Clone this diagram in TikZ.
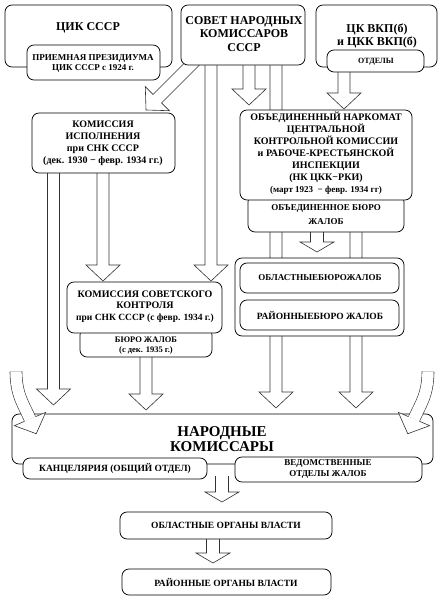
\documentclass[tikz,border=0pt]{standalone}
\usepackage{fontspec}
\setmainfont{Liberation Serif}
\usetikzlibrary{fit}
\newcommand\fsz[2]{\fontsize{#1}{#2}\selectfont\bfseries}
\tikzset{
  box/.style={draw=black, line width=0.75pt, rounded corners=7pt, fill=white, inner sep=0pt},
  arr/.style={draw=black!80, line width=0.6pt, fill=white, line join=miter},
  dbl/.style={draw=black!80, line width=0.6pt, double=white, double distance=11.4pt},
  lab/.style={align=center, inner sep=0pt},
}
\newcommand\blockdown[3]{\path[arr] (#1-6,#2) -- (#1-6,#3-16) -- (#1-17,#3-16) -- (#1,#3) -- (#1+17,#3-16) -- (#1+6,#3-16) -- (#1+6,#2);}
\newcommand\smalldown[3]{\path[arr] (#1-6.5,#2) -- (#1-6.5,#3-10) -- (#1-17,#3-10) -- (#1,#3) -- (#1+17,#3-10) -- (#1+6.5,#3-10) -- (#1+6.5,#2);}
\newcommand\headat[3]{\begin{scope}[shift={(#1,#2)}, rotate=#3]\path[arr] (-6,0) -- (-17,0) -- (0,16) -- (17,0) -- (6,0);\end{scope}}
\newcommand\blockrot[4]{\begin{scope}[shift={(#1,#2)}, rotate=#3]\path[arr] (-6,-#4) -- (-6,-16) -- (-17,-16) -- (0,0) -- (17,-16) -- (6,-16) -- (6,-#4);\end{scope}}
\begin{document}
\begin{tikzpicture}[x=1pt,y=-1pt]
\useasboundingbox (0,0) rectangle (444,603);
% ---------- arrows behind the boxes ----------
\blockdown{53.5}{170}{405}
\blockdown{103}{170}{281}
\blockdown{211}{60}{281}
\blockdown{249}{60}{105}
\blockdown{276}{60}{408}
\blockdown{344}{68}{109}
\blockdown{356}{195}{408}
\blockdown{146}{354}{410}
\smalldown{317}{230}{252}
\smalldown{222}{476}{502}
\smalldown{213}{536}{563}
\blockrot{146}{110}{-45}{70}
\draw[dbl] (16,60) -- (16,372);
\draw[dbl] (428,60) -- (428,372);
% ---------- boxes ----------
\node[box, fit={(5,5) (172,67)}] (cik) {};
\node[lab, font=\fsz{12}{14}] (cikT) at (88,28) {ЦИК СССР};
\node[box, fit={(27,45) (160,80)}] (priem) {};
\node[lab, font=\fsz{9}{10}] (priemT) at (93,63) {ПРИЕМНАЯ ПРЕЗИДИУМА\\ЦИК СССР с 1924 г.};
\node[box, fit={(181,5) (305,65)}] (snk) {};
\node[lab, font=\fsz{12}{13.5}] (snkT) at (244,34) {СОВЕТ НАРОДНЫХ\\КОМИССАРОВ\\СССР};
\node[box, fit={(316,5) (437,67)}] (ck) {};
\node[lab, font=\fsz{12}{12.5}] (ckT) at (377,36) {ЦК ВКП(б)\\и ЦКК ВКП(б)};
\node[box, fit={(327,50) (424,72)}] (otd) {};
\node[lab, font=\fsz{8}{9}] (otdT) at (376,61.5) {ОТДЕЛЫ};
\node[box, fit={(32,113) (175,173)}] (kisp) {};
\node[lab, font=\fsz{10}{12}] (kispT) at (103,143) {КОМИССИЯ\\ИСПОЛНЕНИЯ\\при СНК СССР\\(дек. 1930 − февр. 1934 гг.)};
\node[box, fit={(248,195) (404,232)}] (obburo) {};
\node[lab, font=\fsz{9}{14}] (obburoT) at (326,215) {ОБЪЕДИНЕННОЕ БЮРО\\ЖАЛОБ};
\node[box, fit={(240,110) (412,200)}] (onk) {};
\node[lab, font=\fsz{10}{12}] (onkT) at (326,153) {ОБЪЕДИНЕННЫЙ НАРКОМАТ\\ЦЕНТРАЛЬНОЙ\\КОНТРОЛЬНОЙ КОМИССИИ\\и РАБОЧЕ-КРЕСТЬЯНСКОЙ\\ИНСПЕКЦИИ\\(НК ЦКК−РКИ)\\{\fontsize{9}{12}\selectfont(март 1923 \ − февр. 1934 гг)}};
\node[box, fit={(80,328) (212,357)}] (kskburo) {};
\node[lab, font=\fsz{8.5}{10}] (kskburoT) at (146,345.5) {БЮРО ЖАЛОБ\\(с дек. 1935 г.)};
\node[box, fit={(67,282) (222,333)}] (ksk) {};
\node[lab, font=\fsz{10}{11.5}] (kskT) at (145,306.5) {КОМИССИЯ СОВЕТСКОГО\\КОНТРОЛЯ\\{\fontsize{9.5}{11.5}\selectfont при СНК СССР (с февр. 1934 г.)}};
\node[box, fit={(235,258) (404,336)}] (cont) {};
\node[box, fit={(240,263) (399,293)}] (obl) {};
\node[lab, font=\fsz{9}{10}] (oblT) at (320,278) {ОБЛАСТНЫЕБЮРОЖАЛОБ};
\node[box, fit={(240,300) (399,330)}] (ray) {};
\node[lab, font=\fsz{9.5}{10}] (rayT) at (320,315) {РАЙОННЫЕБЮРО ЖАЛОБ};
\node[box, fit={(12,414) (433,464)}] (nk) {};
\node[lab, font=\fsz{15}{15.5}] (nkT) at (222,439) {НАРОДНЫЕ\\КОМИССАРЫ};
\node[box, fit={(23,458) (207,479)}] (kanc) {};
\node[lab, font=\fsz{9.5}{10}] (kancT) at (115,468.5) {КАНЦЕЛЯРИЯ (ОБЩИЙ ОТДЕЛ)};
\node[box, fit={(235,457) (422,482)}] (ved) {};
\node[lab, font=\fsz{9}{11}] (vedT) at (328,469) {ВЕДОМСТВЕННЫЕ\\ОТДЕЛЫ ЖАЛОБ};
\node[box, fit={(120,512) (332,539)}] (oblorg) {};
\node[lab, font=\fsz{9.5}{10}] (oblorgT) at (226,525.5) {ОБЛАСТНЫЕ ОРГАНЫ ВЛАСТИ};
\node[box, fit={(122,569) (331,595)}] (rayorg) {};
\node[lab, font=\fsz{9.5}{10}] (rayorgT) at (226,582) {РАЙОННЫЕ ОРГАНЫ ВЛАСТИ};
% ---------- curved arrows in front ----------
\draw[dbl] (16,371.5) .. controls (16,395) and (24,405) .. (30,419);
\headat{30}{419}{23}
\draw[dbl] (428,371.5) .. controls (428,395) and (420,405) .. (414,419);
\headat{414}{419}{-23}
\end{tikzpicture}
\end{document}
